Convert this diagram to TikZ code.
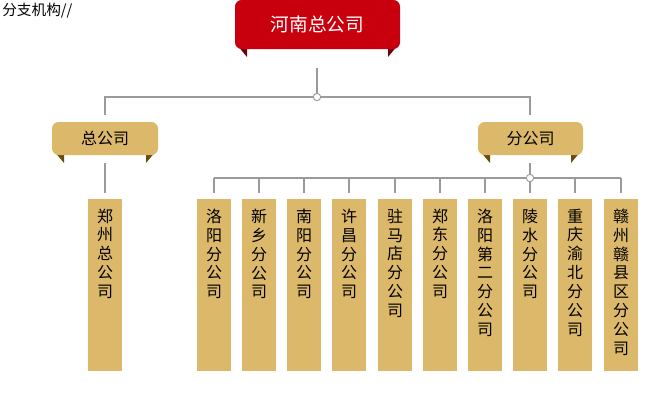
\documentclass[tikz,border=0pt]{standalone}
\usepackage{fontspec}
\setmainfont{Noto Sans CJK SC}
\definecolor{hred}{HTML}{C8000E}
\definecolor{hredd}{HTML}{6E0008}
\definecolor{gold}{HTML}{DCB96A}
\definecolor{goldd}{HTML}{6B4A10}
\definecolor{wire}{HTML}{9A9A9A}
\tikzset{
  leaf/.style={fill=gold,minimum width=25.5pt,minimum height=129pt,anchor=north,inner sep=0pt},
  vtext/.style={anchor=north,align=center,font=\fontsize{12}{14.2}\selectfont},
  wireline/.style={draw=wire,line width=0.9pt},
  joint/.style={circle,draw=wire,fill=white,line width=0.7pt,inner sep=0pt,minimum size=5.5pt}
}
\newcommand{\ribbon}[6]{% x1,x2,ytop,ybot,fill,tab
  \fill[#6] (#1+2,#4-4) -- (#1+12,#4-4) -- (#1+12,#4+8) -- cycle;
  \fill[#6] (#2-2,#4-4) -- (#2-12,#4-4) -- (#2-12,#4+8) -- cycle;
  \fill[#5,rounded corners=5pt] (#1,#3) rectangle (#2,#4);
}
\begin{document}
\begin{tikzpicture}[x=0.75pt,y=-0.75pt]
\useasboundingbox (0,0) rectangle (653,407);
\node[anchor=north west,inner sep=0pt,font=\fontsize{11}{13}\selectfont] (title) at (2,3) {分支机构//};
% top
\ribbon{235}{400}{0}{49}{hred}{hredd}
\node[text=white,font=\fontsize{14}{16}\selectfont] (root) at (317.5,24) {河南总公司};
\ribbon{52}{158}{122}{155}{gold}{goldd}
\node[font=\fontsize{12}{14}\selectfont] (hq) at (105,138.5) {总公司};
\ribbon{478}{583}{122}{155}{gold}{goldd}
\node[font=\fontsize{12}{14}\selectfont] (br) at (530.5,138.5) {分公司};
\coordinate (j1) at (317,97);
\coordinate (j2) at (530,178);
\draw[wireline] (317,68) -- (j1);
\draw[wireline] (105,115) |- (j1) -| (530,115);
\node[joint] at (j1) {};
% leaves
\node[leaf] (zz) at (105,199) {};
\node[vtext] at (105,204) {郑\\州\\总\\公\\司};
\draw[wireline] (105,163) -- (105,193);
\draw[wireline] (530,163) -- (j2);
\draw[wireline] (214,178) -- (621,178);
\foreach \x/\t [count=\i] in {214/洛\\阳\\分\\公\\司, 259/新\\乡\\分\\公\\司, 304/南\\阳\\分\\公\\司,
  349/许\\昌\\分\\公\\司, 395/驻\\马\\店\\分\\公\\司, 440/郑\\东\\分\\公\\司,
  485/洛\\阳\\第\\二\\分\\公\\司, 530/陵\\水\\分\\公\\司, 575/重\\庆\\渝\\北\\分\\公\\司,
  621/赣\\州\\赣\\县\\区\\分\\公\\司}{
  \node[leaf] (b\i) at (\x,199) {};
  \node[vtext] at (\x,204) {\t};
  \draw[wireline] (\x,178) -- (\x,193);
}
\node[joint] at (j2) {};
\end{tikzpicture}
\end{document}
